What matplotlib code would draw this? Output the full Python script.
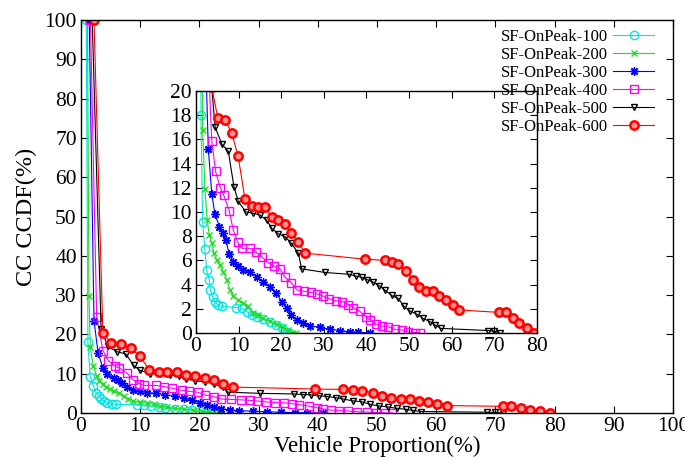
import matplotlib
matplotlib.use('Agg')
from matplotlib import pyplot as plt

plt.rcParams['font.family'] = ['Liberation Serif', 'DejaVu Serif']

# SF-OnPeak-100
x100 = [0.9, 1.17, 1.56, 2.1, 2.5, 3.1, 3.4, 3.9, 4.46, 5.2, 6.0, 9.5, 10.7, 11.9, 13.1, 14.2, 15.8, 17.4, 18.8, 20.1, 21.3, 22.0]
y100 = [100, 18.0, 9.2, 6.9, 5.2, 4.4, 3.55, 3.0, 2.6, 2.3, 2.2, 2.1, 2.04, 1.76, 1.5, 1.3, 1.13, 0.93, 0.66, 0.39, 0.1, 0.0]
# SF-OnPeak-200
x200 = [1.1, 1.35, 1.56, 2.1, 2.65, 3.1, 3.7, 4.2, 4.85, 5.6, 6.4, 7.2, 8.0, 8.75, 9.9, 11.1, 12.3, 13.4, 14.6, 15.8, 17.4, 18.9, 20.5, 21.6, 22.8, 23.5]
y200 = [100, 29.8, 16.8, 11.9, 9.3, 8.1, 7.4, 6.6, 6.0, 5.6, 5.07, 4.4, 3.55, 3.06, 2.7, 2.5, 2.2, 1.68, 1.5, 1.2, 1.0, 0.74, 0.47, 0.25, 0.03, 0.0]
# SF-OnPeak-300
x300 = [1.4, 2.2, 2.9, 3.7, 4.46, 5.5, 6.25, 7.0, 7.8, 8.75, 9.9, 11.1, 12.7, 14.2, 15.8, 17.4, 18.8, 20.1, 21.3, 22.4, 23.6, 25.2, 26.7, 29.1, 31.4, 33.8, 36.1, 38.1, 40.8]
y300 = [100, 23.5, 15.2, 11.5, 9.8, 8.8, 8.3, 7.7, 6.5, 5.9, 5.5, 5.2, 5.0, 4.65, 4.25, 3.8, 3.3, 2.6, 2.04, 1.5, 1.07, 0.8, 0.58, 0.47, 0.3, 0.2, 0.1, 0.06, 0.0]
# SF-OnPeak-400
x400 = [1.6, 2.65, 3.7, 4.6, 5.7, 6.5, 7.8, 8.75, 9.8, 10.7, 12.7, 14.1, 15.4, 17.0, 18.3, 19.7, 20.9, 22.4, 23.7, 25.3, 27.0, 28.5, 29.8, 31.2, 32.8, 34.3, 35.7, 36.9, 38.5, 39.8, 40.8, 42.2, 43.6, 45.1, 46.7, 48.3, 49.8, 51.4, 52.6]
y400 = [100, 24.5, 15.9, 13.35, 12.0, 11.4, 10.1, 8.5, 7.5, 7.0, 7.0, 6.7, 6.3, 5.8, 5.5, 5.3, 4.6, 4.15, 3.55, 3.45, 3.35, 3.22, 3.05, 2.83, 2.65, 2.6, 2.35, 2.1, 1.78, 1.35, 1.07, 0.74, 0.58, 0.52, 0.3, 0.25, 0.1, 0.03, 0.0]
# SF-OnPeak-500
x500 = [1.9, 3.4, 4.5, 6.1, 7.6, 8.9, 9.9, 11.7, 13.4, 15.0, 16.6, 17.8, 19.3, 20.9, 22.4, 24.0, 24.8, 30.3, 36.0, 37.5, 38.9, 40.2, 41.6, 43.0, 44.3, 45.9, 47.5, 48.8, 50.3, 51.8, 53.3, 54.9, 56.1, 57.4, 68.6, 70.0, 71.3]
y500 = [100, 21.5, 17.0, 15.6, 15.0, 12.1, 10.9, 10.0, 9.9, 9.75, 9.3, 8.65, 8.2, 7.96, 7.4, 6.6, 5.3, 5.0, 4.85, 4.7, 4.6, 4.4, 4.2, 3.9, 3.55, 3.1, 2.85, 2.2, 1.8, 1.55, 1.2, 0.94, 0.66, 0.38, 0.2, 0.15, 0.0]
# SF-OnPeak-600
x600 = [2.2, 3.7, 5.1, 6.8, 8.4, 9.9, 11.5, 13.1, 14.6, 16.2, 17.8, 19.3, 20.9, 22.4, 24.0, 25.6, 39.6, 44.3, 45.9, 47.5, 49.3, 50.8, 52.4, 54.0, 55.5, 57.1, 58.7, 60.2, 61.8, 71.2, 72.7, 74.3, 75.9, 77.6, 79.3]
y600 = [100, 20.3, 17.8, 17.6, 16.5, 14.6, 11.05, 10.5, 10.4, 10.4, 9.6, 9.3, 9.0, 8.3, 7.5, 6.6, 6.1, 6.0, 5.9, 5.7, 5.15, 4.4, 3.8, 3.5, 3.5, 3.06, 2.7, 2.3, 1.9, 1.7, 1.7, 1.2, 0.85, 0.4, 0.0]

series = [
    ('SF-OnPeak-100', x100, y100, '#00e5e5', 'o', dict(mfc='none', ms=6, mew=1.0)),
    ('SF-OnPeak-200', x200, y200, '#22dd22', 'x', dict(ms=5, mew=1.0)),
    ('SF-OnPeak-300', x300, y300, '#0000ff', (8, 2, 0), dict(ms=6, mew=1.0)),
    ('SF-OnPeak-400', x400, y400, '#ff00ff', 's', dict(mfc='none', ms=6, mew=1.0)),
    ('SF-OnPeak-500', x500, y500, '#000000', 'v', dict(mfc='none', ms=5, mew=1.0)),
    ('SF-OnPeak-600', x600, y600, '#ff0000', 'o', dict(mfc='#ff9090', ms=6, mew=1.8)),
]

fig = plt.figure(figsize=(6.85, 4.61), dpi=100)
ax = fig.add_axes([0.1182, 0.1041, 0.8643, 0.8525])
ins = fig.add_axes([0.2861, 0.2777, 0.4978, 0.5249])

handles = []
for name, xs, ys, c, m, kw in series:
    h, = ax.plot(xs, ys, color=c, marker=m, lw=0.8, label=name, **kw)
    ins.plot(xs, ys, color=c, marker=m, lw=0.8, **kw)
    handles.append(h)

def style(a):
    a.tick_params(direction='in', length=5, width=0.8, top=True, right=True,
                  labelsize=15.5, pad=3)
    for s in a.spines.values():
        s.set_linewidth(1.0)

ax.set_xlim(0, 100)
ax.set_ylim(0, 100)
ax.set_xticks(range(0, 101, 10))
ax.set_yticks(range(0, 101, 10))
style(ax)
ax.set_xlabel('Vehicle Proportion(%)', fontsize=16.5, labelpad=0)
ax.set_ylabel('CC CCDF(%)', fontsize=17.5, labelpad=5)

ins.set_xlim(0, 80)
ins.set_ylim(0, 20)
ins.set_xticks(range(0, 81, 10))
ins.set_yticks(range(0, 21, 2))
style(ins)

# legend on the figure so it sits above the inset
fig.legend(handles=handles, loc='upper right', frameon=False, markerfirst=False,
           fontsize=12, labelspacing=0.12, handlelength=2.5, handletextpad=0.3,
           borderaxespad=0.0, bbox_to_anchor=(0.965, 0.952))

fig.savefig('out.png', dpi=100)
